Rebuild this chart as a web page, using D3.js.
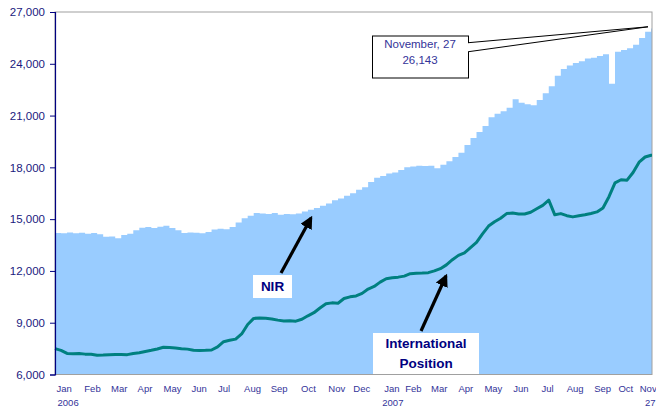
<!DOCTYPE html>
<html><head><meta charset="utf-8">
<script src="https://cdn.jsdelivr.net/npm/d3@7/dist/d3.min.js"></script>
<style>html,body{margin:0;padding:0;background:#fff;}svg{display:block;font-family:"Liberation Sans",Arial,sans-serif;}</style>
</head><body><svg id="c" width="656" height="410"></svg>
<script>
// ---- data ----
const startDate = "2006-01-02";
const endDate = "2007-11-27";
// weekly observations from startDate, last one is endDate
const nirValues = [14200,14180,14230,14190,14210,14160,14200,14120,13980,14000,
  13900,14080,14150,14350,14500,14540,14480,14560,14620,14480,
  14350,14200,14230,14210,14180,14250,14400,14450,14420,14550,
  14800,15050,15200,15350,15330,15300,15350,15250,15300,15280,
  15330,15450,15550,15650,15780,15900,16100,16200,16350,16500,
  16700,16850,17150,17400,17500,17650,17700,17850,18000,18050,
  18100,18080,18100,17950,18150,18350,18600,18850,19300,19700,
  20050,20400,20900,21100,21250,21450,21950,21750,21650,21600,
  21900,22300,22700,23300,23700,23900,24050,24150,24300,24350,
  24450,24550,22850,24700,24800,24900,25100,25500,25850,26050,26143];
const intlValues = [7500,7400,7220,7200,7220,7180,7170,7120,7130,7150,
  7160,7160,7150,7220,7260,7330,7400,7480,7580,7560,
  7530,7490,7470,7400,7390,7400,7420,7600,7900,7980,
  8050,8350,8900,9250,9280,9260,9220,9150,9100,9110,
  9090,9200,9400,9580,9850,10100,10150,10130,10400,10500,
  10550,10700,10950,11100,11350,11550,11600,11640,11700,11840,
  11870,11880,11900,12000,12130,12350,12650,12900,13050,13350,
  13650,14150,14600,14850,15050,15320,15350,15300,15300,15400,
  15600,15800,16100,15250,15320,15200,15130,15200,15260,15330,
  15420,15650,16300,17100,17280,17260,17700,18300,18600,18700,18700];
const monthNames = ["Jan","Feb","Mar","Apr","May","Jun","Jul","Aug","Sep","Oct","Nov","Dec",
  "Jan","Feb","Mar","Apr","May","Jun","Jul","Aug","Sep","Oct","Nov"];
const monthLabelDates = ["2006-01-12","2006-02-14","2006-03-17","2006-04-16","2006-05-18","2006-06-18",
  "2006-07-17","2006-08-19","2006-09-19","2006-10-23","2006-11-25","2006-12-24",
  "2007-01-28","2007-02-22","2007-03-24","2007-04-24","2007-05-26","2007-06-27",
  "2007-07-28","2007-08-29","2007-09-30","2007-10-27","2007-11-22"];
const subLabels = {0:"2006", 12:"2007", 22:"27"};
const yTicks = [6000,9000,12000,15000,18000,21000,24000,27000];
const calloutLines = ["November, 27","26,143"];

// ---- build ----
const parse = d3.timeParse("%Y-%m-%d");
const t0 = parse(startDate), t1 = parse(endDate);
const dates = nirValues.map((v,i)=> i===nirValues.length-1 ? t1 : d3.timeDay.offset(t0, 7*i));
const nir = dates.map((d,i)=>({d, v:nirValues[i]}));
const intl = dates.map((d,i)=>({d, v:intlValues[i]}));

const L=55, R=652, T=12, B=374.5;
const x = d3.scaleTime().domain([t0,t1]).range([L,R]);
const y = d3.scaleLinear().domain([6000,27000]).range([B,T]);
const svg = d3.select("#c");

// area
svg.append("path").datum(nir)
  .attr("fill","#99CCFF")
  .attr("d", d3.area().curve(d3.curveStepAfter).x(d=>x(d.d)).y0(y(6000)).y1(d=>y(d.v)));

// border (top/right/bottom grey)
svg.append("rect").attr("x",L).attr("y",T).attr("width",R-L).attr("height",B-T)
  .attr("fill","none").attr("stroke","#A0A0A0").attr("stroke-width",1);

// line
svg.append("path").datum(intl)
  .attr("fill","none").attr("stroke","#008080").attr("stroke-width",3).attr("stroke-linejoin","round")
  .attr("d", d3.line().x(d=>x(d.d)).y(d=>y(d.v)));

// y axis
const ya = svg.append("g").attr("transform",`translate(${L},0)`)
  .call(d3.axisLeft(y).tickValues(yTicks).tickFormat(d3.format(",")).tickSize(5).tickPadding(5));
ya.select(".domain").attr("stroke","#000080").attr("stroke-width",1.2);
ya.selectAll(".tick line").attr("stroke","#000080");
ya.selectAll(".tick text").attr("fill","#1a1a80").style("font-size","11.5px").style("font-family","Liberation Sans, Arial");

// x labels
const xa = svg.append("g").attr("transform",`translate(0,${B})`)
  .call(d3.axisBottom(x).tickValues(monthLabelDates.map(parse)).tickFormat((d,i)=>monthNames[i]).tickSize(0).tickPadding(11));
xa.select(".domain").remove();
xa.selectAll(".tick text").attr("fill","#333399").style("font-size","9.5px").style("font-family","Liberation Sans, Arial")
  .each(function(d,i){
    if(subLabels[i]){
      d3.select(this.parentNode).append("text").attr("fill","#333399").attr("y",25).attr("dy","0.71em")
        .attr("x", i===0?4:(i===12?1:2))
        .attr("text-anchor","middle").style("font-size","9.5px").style("font-family","Liberation Sans, Arial")
        .text(subLabels[i]);
    }
  });

// arrow marker
const defs = svg.append("defs");
defs.append("marker").attr("id","ah").attr("viewBox","0 0 10 10").attr("refX",8).attr("refY",5)
  .attr("markerWidth",4).attr("markerHeight",4).attr("orient","auto")
  .append("path").attr("d","M0,0 L10,5 L0,10 Z").attr("fill","#000");

function label(x0,y0,w,h,lines,arrowFrom,arrowTo){
  svg.append("line").attr("x1",arrowFrom[0]).attr("y1",arrowFrom[1]).attr("x2",arrowTo[0]).attr("y2",arrowTo[1])
    .attr("stroke","#000").attr("stroke-width",3.2).attr("marker-end","url(#ah)");
  svg.append("rect").attr("x",x0).attr("y",y0).attr("width",w).attr("height",h).attr("fill","#fff");
  lines.forEach((t,i)=>{
    svg.append("text").attr("x",x0+w/2).attr("y",y0+h/2 + (i-(lines.length-1)/2)*20).attr("dy","0.36em")
      .attr("text-anchor","middle").attr("fill","#000080").style("font-weight","bold").style("font-size","13.5px")
      .text(t);
  });
}
label(253,275,39,23,["NIR"],[281,273],[311,218]);
label(373,333,106,41,["International","Position"],[421,331],[446,276]);

// callout
const tipX = x(t1)-4, tipY = y(nirValues[nirValues.length-1]);
svg.append("path").attr("d",`M468.5,42.7 L${tipX},${tipY} L468.5,51.7`).attr("fill","#fff").attr("stroke","#000").attr("stroke-width",1);
svg.append("rect").attr("x",372.5).attr("y",36).attr("width",96).attr("height",42).attr("fill","#fff").attr("stroke","#000").attr("stroke-width",1);
svg.append("line").attr("x1",468.5).attr("x2",468.5).attr("y1",43.2).attr("y2",51.2).attr("stroke","#fff").attr("stroke-width",1.2);
calloutLines.forEach((t,i)=>{
  svg.append("text").attr("x",420).attr("y",44+i*16).attr("dy","0.36em").attr("text-anchor","middle")
    .attr("fill","#333399").style("font-size","11.5px").text(t);
});
</script></body></html>
